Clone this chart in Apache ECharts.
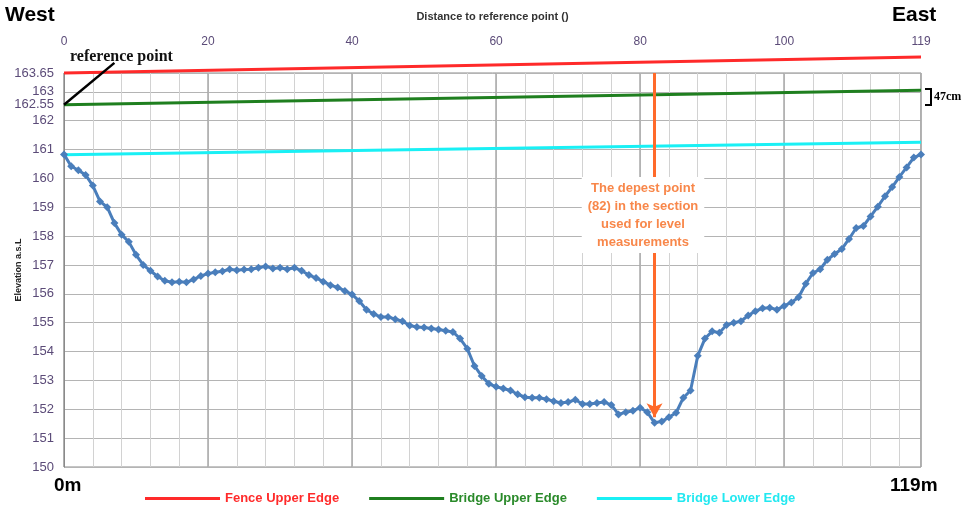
<!DOCTYPE html>
<html>
<head>
<meta charset="utf-8">
<title>Cross section profile</title>
<script src="https://cdn.jsdelivr.net/npm/echarts@6/dist/echarts.min.js"></script>
<style>
  html, body { margin: 0; padding: 0; background: #fff; }
  #chart { width: 969px; height: 505px; }
</style>
</head>
<body>
<div id="chart"></div>
<script>
// distance from the reference point (m)
var distance = [];
for (var i = 0; i <= 119; i++) distance.push(i);

var bedElevation = [
  160.83, 160.42, 160.28, 160.12, 159.75, 159.2, 159.0, 158.45, 158.05, 157.8,
  157.35, 157.0, 156.8, 156.6, 156.45, 156.4, 156.42, 156.4, 156.5, 156.62,
  156.7, 156.75, 156.78, 156.85, 156.82, 156.84, 156.85, 156.9, 156.95, 156.88,
  156.9, 156.85, 156.9, 156.8, 156.65, 156.55, 156.42, 156.3, 156.22, 156.1,
  155.98, 155.75, 155.45, 155.3, 155.2, 155.2, 155.12, 155.05, 154.9, 154.85,
  154.83, 154.8, 154.76, 154.72, 154.68, 154.45, 154.1, 153.5, 153.15, 152.88,
  152.78, 152.72, 152.65, 152.52, 152.42, 152.4, 152.4, 152.35, 152.28, 152.22,
  152.25, 152.33, 152.18, 152.18, 152.22, 152.25, 152.15, 151.82, 151.9, 151.95,
  152.05, 151.9, 151.53, 151.58, 151.72, 151.88, 152.4, 152.65, 153.85, 154.45,
  154.7, 154.65, 154.92, 155.0, 155.05, 155.25, 155.4, 155.5, 155.52, 155.45,
  155.58, 155.7, 155.88, 156.35, 156.72, 156.85, 157.18, 157.38, 157.55, 157.9,
  158.28, 158.35, 158.68, 159.02, 159.38, 159.7, 160.05, 160.38, 160.72, 160.83
];

// edges, given at both ends of the section
var edgeX = [0, 119];
var fenceUpper = [163.65, 164.2];
var bridgeUpper = [162.55, 163.05];
var bridgeLower = [160.82, 161.25];

// reference point pointer and deepest point
var refPointerX = [0, 7];
var refPointerY = [162.55, 164.0];
var deepestX = 82;
var deepestArrow = [163.65, 151.72];

var xTickLabels = [0, 20, 40, 60, 80, 100, 119];
var yTickLabels = [150, 151, 152, 153, 154, 155, 156, 157, 158, 159, 160, 161, 162, 163, 162.55, 163.65];

function pairs(xs, ys) {
  var out = [];
  for (var i = 0; i < xs.length; i++) out.push([xs[i], ys[i]]);
  return out;
}

var narrow = "'Liberation Sans Narrow', 'Arial Narrow', 'Liberation Sans', sans-serif";
var labelColor = '#5b4b78';

var myChart = echarts.init(document.getElementById('chart'));
var option = {
  animation: false,
  grid: {
    left: 64,
    right: 48,
    top: 73,
    bottom: 38,
    containLabel: false,
    outerBoundsMode: 'none',
    show: true,
    borderColor: '#8a8a8a',
    borderWidth: 1
  },
  legend: {
    data: [
      { name: 'Fence Upper Edge', textStyle: { color: '#ff2a2a' } },
      { name: 'Bridge Upper Edge', textStyle: { color: '#2a8a2a' } },
      { name: 'Bridge Lower Edge', textStyle: { color: '#22e8f0' } }
    ],
    left: 140,
    top: 487,
    icon: 'rect',
    itemWidth: 75,
    itemHeight: 3,
    itemGap: 30,
    textStyle: { fontFamily: narrow, fontWeight: 'bold', fontSize: 13 }
  },
  xAxis: [
    {
      type: 'value',
      position: 'top',
      min: 0,
      max: 119,
      interval: 4,
      name: 'Distance to reference point ()',
      nameLocation: 'middle',
      nameGap: 51,
      nameMoveOverlap: false,
      nameTextStyle: { color: '#333', fontSize: 11, fontWeight: 'bold', fontFamily: narrow },
      axisLine: { show: false },
      axisTick: { show: false },
      axisLabel: {
        customValues: xTickLabels,
        margin: 25,
        color: labelColor,
        fontSize: 12,
        fontFamily: 'Liberation Sans, sans-serif'
      },
      splitLine: { show: true, lineStyle: { color: '#d2d2d2', width: 1 } }
    },
    {
      type: 'value',
      position: 'bottom',
      min: 0,
      max: 119,
      interval: 20,
      axisLine: { show: false },
      axisTick: { show: false },
      axisLabel: { show: false },
      splitLine: { show: true, lineStyle: { color: '#a8a8a8', width: 1.5 } }
    }
  ],
  yAxis: {
    type: 'value',
    min: 150,
    max: 163.65,
    interval: 1,
    name: 'Elevation a.s.L',
    nameLocation: 'middle',
    nameGap: 41,
    nameMoveOverlap: false,
    nameTextStyle: { color: '#222', fontSize: 9, fontWeight: 'bold', fontFamily: narrow },
    axisLine: { show: true, lineStyle: { color: '#8a8a8a' } },
    axisTick: { show: false },
    axisLabel: {
      customValues: yTickLabels,
      margin: 10,
      color: labelColor,
      fontSize: 13,
      fontFamily: 'Liberation Sans, sans-serif'
    },
    splitLine: { show: true, lineStyle: { color: '#b4b4b4', width: 1 } }
  },
  series: [
    {
      name: 'Fence Upper Edge',
      type: 'line',
      data: pairs(edgeX, fenceUpper),
      clip: false,
      symbol: 'none',
      color: '#ff2a2a',
      lineStyle: { width: 3, color: '#ff2a2a' },
      z: 4
    },
    {
      name: 'Bridge Upper Edge',
      type: 'line',
      data: pairs(edgeX, bridgeUpper),
      symbol: 'none',
      color: '#1f7f1f',
      lineStyle: { width: 3, color: '#1f7f1f' },
      z: 4
    },
    {
      name: 'Bridge Lower Edge',
      type: 'line',
      data: pairs(edgeX, bridgeLower),
      symbol: 'none',
      color: '#19f0f5',
      lineStyle: { width: 3, color: '#19f0f5' },
      z: 4
    },
    {
      name: 'reference pointer',
      type: 'line',
      data: pairs(refPointerX, refPointerY),
      clip: false,
      symbol: 'none',
      lineStyle: { width: 2.5, color: '#000' },
      z: 6
    },
    {
      name: 'Bed',
      type: 'line',
      data: pairs(distance, bedElevation),
      symbol: 'diamond',
      symbolSize: 8,
      color: '#4a7ebb',
      lineStyle: { width: 3, color: '#4a7ebb' },
      itemStyle: { color: '#4a7ebb' },
      z: 5,
      markLine: {
        silent: true,
        symbol: ['none', 'arrow'],
        symbolSize: [12, 14],
        label: { show: false },
        lineStyle: { color: '#ff6a2a', width: 3, type: 'solid' },
        data: [[{ coord: [deepestX, deepestArrow[0]] }, { coord: [deepestX, deepestArrow[1]] }]],
        z: 7
      }
    }
  ],
  graphic: [
    { type: 'text', left: 5, top: 5, style: { text: 'West', font: 'bold 21px Liberation Sans, sans-serif', fill: '#000' } },
    { type: 'text', left: 892, top: 5, style: { text: 'East', font: 'bold 21px Liberation Sans, sans-serif', fill: '#000' } },
    { type: 'text', left: 54, top: 476, style: { text: '0m', font: 'bold 19px Liberation Sans, sans-serif', fill: '#000' } },
    { type: 'text', left: 890, top: 476, style: { text: '119m', font: 'bold 19px Liberation Sans, sans-serif', fill: '#000' } },
    { type: 'text', left: 70, top: 49, z: 10, style: { text: 'reference point', font: 'bold 16px Liberation Serif, serif', fill: '#111' } },
    {
      type: 'text',
      x: 643,
      y: 177,
      z: 10,
      style: {
        text: 'The depest point\n(82) in the section\nused for level\nmeasurements',
        font: 'bold 13px ' + narrow,
        fill: '#f8874a',
        align: 'center',
        verticalAlign: 'top',
        lineHeight: 18,
        backgroundColor: '#fff',
        padding: [2, 6]
      }
    },
    {
      type: 'polyline',
      z: 10,
      shape: { points: [[925, 89], [931, 89], [931, 105], [925, 105]] },
      style: { stroke: '#000', lineWidth: 2, fill: null }
    },
    { type: 'text', left: 934, top: 91, style: { text: '47cm', font: 'bold 12px Liberation Serif, serif', fill: '#000' } }
  ]
};
myChart.setOption(option);
window.addEventListener('resize', function () {
  myChart.resize();
});
</script>
</body>
</html>
